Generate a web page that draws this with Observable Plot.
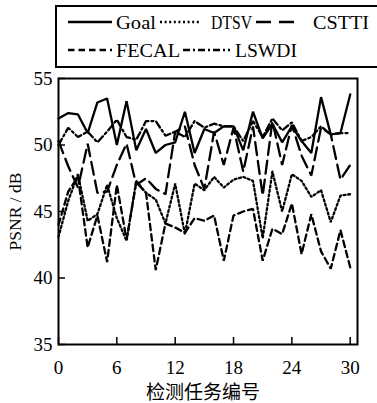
<!DOCTYPE html>
<html><head><meta charset="utf-8">
<script src="https://cdn.jsdelivr.net/npm/d3@7"></script>
<script src="https://cdn.jsdelivr.net/npm/@observablehq/plot@0.6"></script>
<style>
body{margin:0;background:#fff;}
#wrap{position:relative;width:377px;height:403px;overflow:hidden;background:#fff;}
#wrap svg{position:absolute;left:0;top:0;}
#wrap svg text{font-family:"Liberation Serif","Times New Roman",Times,"DejaVu Serif",serif;}
#wrap svg text.cjk{font-family:"Noto Sans CJK SC",sans-serif;}
</style></head><body><div id="wrap"></div>
<script>
const tasks = [0,1,2,3,4,5,6,7,8,9,10,11,12,13,14,15,16,17,18,19,20,21,22,23,24,25,26,27,28,29,30];
const goal  = [52.0,52.4,52.3,50.9,53.2,53.5,50.0,53.3,49.6,51.2,49.4,50.0,50.2,52.5,49.4,51.2,50.9,51.4,51.4,49.6,52.5,50.5,51.6,50.2,51.4,50.3,49.4,53.6,50.8,50.9,53.8];
const dtsv  = [43.1,45.8,47.8,44.3,44.8,47.0,44.5,42.8,47.3,46.4,45.9,44.1,47.1,43.3,47.1,46.6,47.6,46.8,47.4,47.6,47.3,43.0,48.0,45.0,47.8,47.3,46.1,46.6,44.2,46.2,46.3];
const cstti = [50.3,48.4,46.8,50.1,46.4,46.5,48.5,50.1,47.0,47.5,46.7,46.3,51.0,51.4,48.5,46.7,51.0,48.5,51.3,48.0,51.4,46.2,51.8,48.5,51.5,49.2,47.7,51.3,50.8,47.4,48.5];
const fecal = [44.0,46.5,47.6,42.3,44.7,41.2,47.0,42.9,47.2,46.4,40.6,44.1,43.8,43.4,44.5,44.3,44.7,41.3,44.7,45.0,45.2,41.3,43.7,43.3,45.6,41.8,44.8,42.0,40.7,43.6,40.8];
const lswdi = [50.0,51.3,50.6,51.0,50.2,51.0,51.9,50.6,50.4,51.8,51.8,50.7,51.0,50.6,51.8,51.3,51.6,51.4,51.4,50.3,51.8,50.6,52.0,51.1,51.7,50.3,50.6,51.4,50.8,50.9,50.9];
const seriesNames = ["Goal","DTSV","CSTTI","FECAL","LSWDI"];
const xTicks = [0,6,12,18,24,30];
const yTicks = [35,40,45,50,55];
const yLabel = "PSNR / dB";
const xLabel = "检测任务编号";

const dashes = {Goal: null, DTSV: "2,2.6", CSTTI: "13,6", FECAL: "6.5,4", LSWDI: "7,3,2,3"};
const values = {Goal: goal, DTSV: dtsv, CSTTI: cstti, FECAL: fecal, LSWDI: lswdi};
const serif = "'Liberation Serif','Times New Roman',Times,'DejaVu Serif',serif";

const chart = Plot.plot({
  width: 377, height: 403,
  marginLeft: 58, marginRight: 20, marginTop: 78, marginBottom: 59,
  style: {fontFamily: serif, fontSize: "19px", color: "#000", background: "transparent"},
  x: {domain: [0, 30.75]},
  y: {domain: [35, 55]},
  marks: [
    Plot.axisX({ticks: xTicks, tickSize: -7, tickPadding: 23, label: null, strokeWidth: 1.5, fontSize: 19}),
    Plot.axisY({ticks: yTicks, tickSize: -7, tickPadding: 13, label: null, strokeWidth: 1.5, fontSize: 19}),
    ...seriesNames.map(s => Plot.lineY(values[s], {x: tasks, stroke: "black", strokeWidth: 2.3, strokeDasharray: dashes[s], strokeLinejoin: "miter"})),
    Plot.frame({stroke: "black", strokeWidth: 2}),
    Plot.text([yLabel], {text: d => d, frameAnchor: "left", dx: -43, rotate: -90, textAnchor: "middle", lineAnchor: "middle", fontSize: 17.5}),
    Plot.text([xLabel], {text: d => d, frameAnchor: "bottom", dy: 48, dx: -5, lineAnchor: "middle", textAnchor: "middle", fontSize: 19})
  ]
});
document.getElementById("wrap").appendChild(chart);
d3.select(chart).selectAll("text").filter(function(){ return this.textContent === xLabel; })
  .attr("class", "cjk").style("font-family", "'Noto Sans CJK SC', sans-serif");

// legend
const lg = d3.select("#wrap").append("svg").attr("width", 377).attr("height", 70);
lg.append("rect").attr("x", 56).attr("y", 6).attr("width", 330).attr("height", 61)
  .attr("fill", "white").attr("stroke", "black").attr("stroke-width", 2);
const items = [
  {name: "Goal",  x1: 68,  x2: 112, tx: 116, tw: 40, y: 22},
  {name: "DTSV",  x1: 160, x2: 200, tx: 211, tw: 41, y: 22},
  {name: "CSTTI", x1: 256, x2: 298, tx: 313, tw: 56, y: 22},
  {name: "FECAL", x1: 68,  x2: 112, tx: 116, tw: 64, y: 50},
  {name: "LSWDI", x1: 183, x2: 230, tx: 235, tw: 62, y: 50}
];
items.forEach(it => {
  lg.append("line").attr("x1", it.x1).attr("x2", it.x2).attr("y1", it.y).attr("y2", it.y)
    .attr("stroke", "black").attr("stroke-width", 2.3)
    .attr("stroke-dasharray", it.name === "CSTTI" ? "15,8" : dashes[it.name]);
  lg.append("text").attr("x", it.tx).attr("y", it.y + 6.5).text(it.name)
    .attr("font-size", 19).style("font-family", serif)
    .attr("textLength", it.tw).attr("lengthAdjust", "spacingAndGlyphs");
});
</script></body></html>
